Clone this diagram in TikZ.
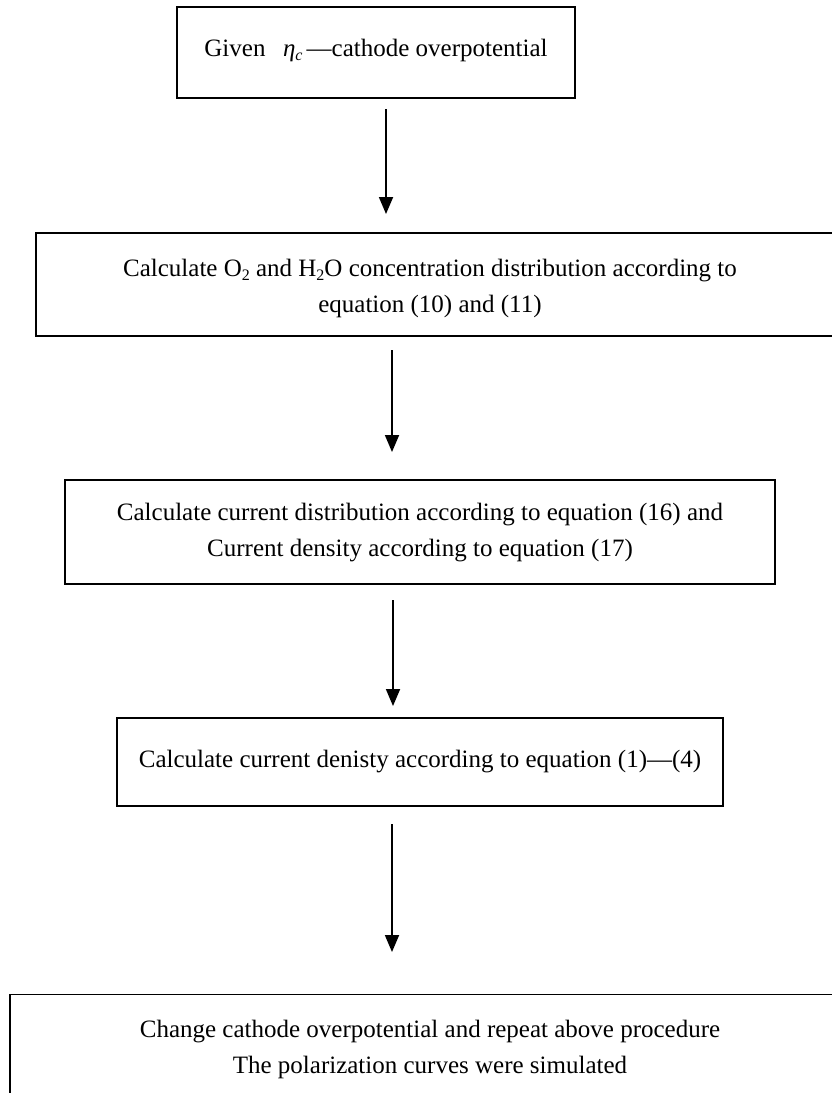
\documentclass[tikz,border=0pt]{standalone}
\usepackage{fontspec}
\setmainfont{Liberation Serif}
\usetikzlibrary{arrows.meta}
\newcommand{\lowsub}[1]{\raisebox{-0.35ex}{\fontsize{16}{16}\selectfont #1}}
\begin{document}
\begin{tikzpicture}[x=1pt,y=-1pt,
  flowbox/.style={draw, line width=1.6pt, rectangle, inner sep=0pt},
  flowtext/.style={align=center, inner sep=0pt, font=\fontsize{25}{36}\selectfont},
  flowarrow/.style={line width=1.8pt, -{Triangle[length=17pt,width=14pt]}}]
\useasboundingbox (0,0) rectangle (832,1093);
% boxes
\node[flowbox, minimum width=398pt, minimum height=91pt] (b1) at (376,52.5) {};
\node[flowbox, minimum width=814pt, minimum height=103pt] (b2) at (443,284.5) {};
\node[flowbox, minimum width=710pt, minimum height=104pt] (b3) at (420,532) {};
\node[flowbox, minimum width=606pt, minimum height=88pt] (b4) at (420,762) {};
\node[flowbox, minimum width=840pt, minimum height=115pt] (b5) at (430,1052) {};
% texts
\node[flowtext] (t1) at (376,50) {Given\hspace{0.7em}\textit{η}\lowsub{\textit{c}}\,—cathode overpotential};
\node[flowtext] (t2) at (430,288) {Calculate O\lowsub{2} and H\lowsub{2}O concentration distribution according to\\ equation (10) and (11)};
\node[flowtext] (t3) at (420,533) {Calculate current distribution according to equation (16) and\\ Current density according to equation (17)};
\node[flowtext] (t4) at (420,762) {Calculate current denisty according to equation (1)—(4)};
\node[flowtext] (t5) at (430,1049) {Change cathode overpotential and repeat above procedure\\ The polarization curves were simulated};
% arrow ends
\coordinate (a1s) at (386,109); \coordinate (a1e) at (386,214);
\coordinate (a2s) at (392,350); \coordinate (a2e) at (392,452);
\coordinate (a3s) at (393,600); \coordinate (a3e) at (393,706);
\coordinate (a4s) at (392,824); \coordinate (a4e) at (392,952);
\draw[flowarrow] (a1s) -- (a1e);
\draw[flowarrow] (a2s) -- (a2e);
\draw[flowarrow] (a3s) -- (a3e);
\draw[flowarrow] (a4s) -- (a4e);
\end{tikzpicture}
\end{document}
